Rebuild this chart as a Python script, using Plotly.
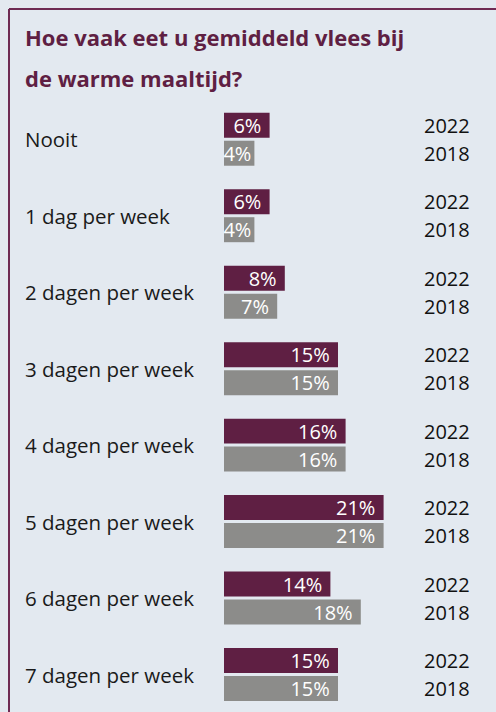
import plotly.graph_objects as go

categories = ["Nooit", "1 dag per week", "2 dagen per week", "3 dagen per week",
              "4 dagen per week", "5 dagen per week", "6 dagen per week", "7 dagen per week"]
share_2022 = [6, 6, 8, 15, 16, 21, 14, 15]
share_2018 = [4, 4, 7, 15, 16, 21, 18, 15]
years = ["2022", "2018"]

BG = "#e3e9f0"
PURPLE = "#5f1f43"
GREY = "#8c8c8a"
BORDER = "#6e2b53"
FONT = "Open Sans"

W, H = 496, 712
PLOT_L, PLOT_T = 224, 101
PX_PER_PCT = 7.6


def px_x(px):
    return (px - PLOT_L) / (W - PLOT_L)


def px_y(py):
    return (H - py) / (H - PLOT_T)


def bar_label(v):
    # the narrow 4% bars carry their label flush, the rest get a little end padding
    return f"{v}%\u00a0" if v >= 5 else f"{v}%"


fig = go.Figure()
for name, vals, color in [(years[0], share_2022, PURPLE), (years[1], share_2018, GREY)]:
    fig.add_trace(go.Bar(
        y=categories, x=vals, name=name, orientation="h",
        marker=dict(color=color, line=dict(width=0)),
        text=[bar_label(v) for v in vals], textposition="inside",
        insidetextanchor="end", constraintext="none", cliponaxis=False,
        textfont=dict(family=FONT, size=20, color="white"),
    ))

annotations = []
# title, two lines
for line, py in zip(["Hoe vaak eet u gemiddeld vlees bij", "de warme maaltijd?"], [37, 78]):
    annotations.append(dict(
        text=f"<b>{line}</b>", xref="paper", yref="paper",
        x=px_x(23), y=px_y(py), xanchor="left", yanchor="middle",
        showarrow=False, font=dict(family=FONT, size=22, color=PURPLE),
    ))
# category labels, left aligned
for cat in categories:
    annotations.append(dict(
        text=cat, xref="paper", yref="y", x=px_x(23), y=cat,
        xanchor="left", yanchor="middle", showarrow=False,
        font=dict(family=FONT, size=20.5, color="#1a1a1a"),
    ))
# year labels next to each bar
for cat in categories:
    for year, shift in zip(years, [14, -14]):
        annotations.append(dict(
            text=year, xref="paper", yref="y", x=px_x(447), y=cat, yshift=shift,
            xanchor="center", yanchor="middle", showarrow=False,
            font=dict(family=FONT, size=20, color="#111111"),
        ))

shapes = [
    dict(type="line", xref="paper", yref="paper", x0=px_x(9), x1=px_x(W + 5),
         y0=px_y(9), y1=px_y(9), line=dict(color=BORDER, width=2)),
    dict(type="line", xref="paper", yref="paper", x0=px_x(9), x1=px_x(9),
         y0=px_y(9), y1=px_y(H + 5), line=dict(color=BORDER, width=2)),
]

fig.update_layout(
    width=W, height=H, margin=dict(l=PLOT_L, r=0, t=PLOT_T, b=0),
    paper_bgcolor=BG, plot_bgcolor=BG,
    barmode="group", bargap=0.268, bargroupgap=0.107,
    showlegend=False,
    xaxis=dict(range=[0, (W - PLOT_L) / PX_PER_PCT], visible=False, fixedrange=True),
    yaxis=dict(range=[7.49, -0.5], showticklabels=False, showgrid=False,
               zeroline=False, fixedrange=True),
    annotations=annotations, shapes=shapes,
)

fig.write_html("out.html", config={"displayModeBar": False},
               post_script="document.body.style.margin='0';")
